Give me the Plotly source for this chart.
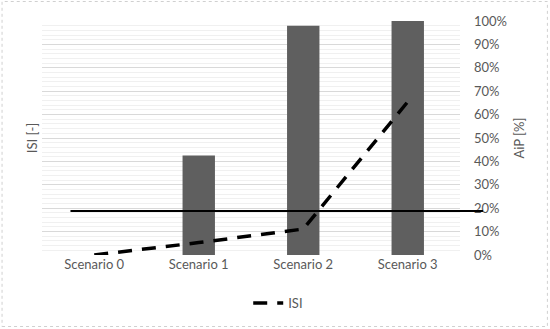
import plotly.graph_objects as go

# ---- data ----
categories = ["Scenario 0", "Scenario 1", "Scenario 2", "Scenario 3"]
aip_percent = [0, 42.5, 98, 100]          # bars, right axis AiP [%]
isi_values = [0.0, 0.053, 0.111, 0.655]   # dashed line, left axis ISI [-]
threshold_aip = 18.8                      # horizontal black line (AiP %)
aip_ticks = list(range(0, 101, 10))
aip_ticklabels = [f"{v}%" for v in aip_ticks]

# ---- layout geometry (pixels) ----
W, H = 550, 329
L, R, T, B = 41.5, 90, 21, 74
pw, ph = W - L - R, H - T - B

def px_x(p):
    return (p - L) / pw

def px_y(p):
    return (H - B - p) / ph

txt = "#595959"
font_family = "Lato, 'Open Sans', sans-serif"
fs = 13

fig = go.Figure()
# bars on the primary (bottom) y axis shown on the right side
fig.add_trace(go.Bar(
    x=categories, y=aip_percent, yaxis="y",
    marker=dict(color="#5f5f5f", line=dict(width=0)),
    width=0.31, showlegend=False, name="AiP", hoverinfo="skip",
))
# ISI line on the overlaying axis (drawn above the bars), shown on the left
fig.add_trace(go.Scatter(
    x=categories, y=isi_values, yaxis="y2", mode="lines", name="ISI",
    line=dict(color="black", width=3.5, dash="14px,10px"), hoverinfo="skip",
))

fig.update_layout(
    width=W, height=H,
    margin=dict(l=L, r=R, t=T, b=B, autoexpand=False),
    paper_bgcolor="white", plot_bgcolor="white",
    font=dict(family=font_family, size=fs, color=txt),
    xaxis=dict(
        type="category", range=[-0.5, 3.5], showgrid=False, showline=False,
        zeroline=False, ticks="", tickfont=dict(size=fs, color=txt),
    ),
    yaxis=dict(
        side="right", range=[0, 100],
        tickvals=aip_ticks, ticktext=aip_ticklabels,
        showgrid=True, gridcolor="#d9d9d9", gridwidth=1,
        minor=dict(dtick=2, showgrid=True, gridcolor="#f0f0f0", gridwidth=1),
        zeroline=False, ticks="", ticklabelstandoff=13,
        tickfont=dict(size=fs, color=txt),
        title=dict(text="AiP [%]", standoff=8, font=dict(size=fs, color=txt)),
        automargin=False,
    ),
    yaxis2=dict(
        overlaying="y", side="left", range=[0, 1], showgrid=False,
        zeroline=False, showticklabels=False, ticks="",
        title=dict(text="ISI [-]", standoff=0, font=dict(size=fs, color=txt)),
        automargin=False,
    ),
    legend=dict(
        orientation="h", x=px_x(278), xanchor="center",
        y=px_y(303), yanchor="middle", font=dict(size=fs, color=txt),
        bgcolor="rgba(0,0,0,0)",
    ),
    bargap=0.69,
)

fig.add_shape(
    type="line", xref="paper", yref="y",
    x0=px_x(70), x1=px_x(483), y0=threshold_aip, y1=threshold_aip,
    line=dict(color="black", width=2), layer="above",
)
# dotted chart-area border
fig.add_shape(
    type="rect", xref="paper", yref="paper",
    x0=px_x(1.5), x1=px_x(W - 2.5), y0=px_y(H - 2.5), y1=px_y(1.5),
    line=dict(color="#d0d0d0", width=1, dash="dot"), layer="below",
)

fig.write_html(
    "out.html",
    config={"displayModeBar": False},
    post_script="document.body.style.margin='0px';document.body.style.overflow='hidden';",
)
